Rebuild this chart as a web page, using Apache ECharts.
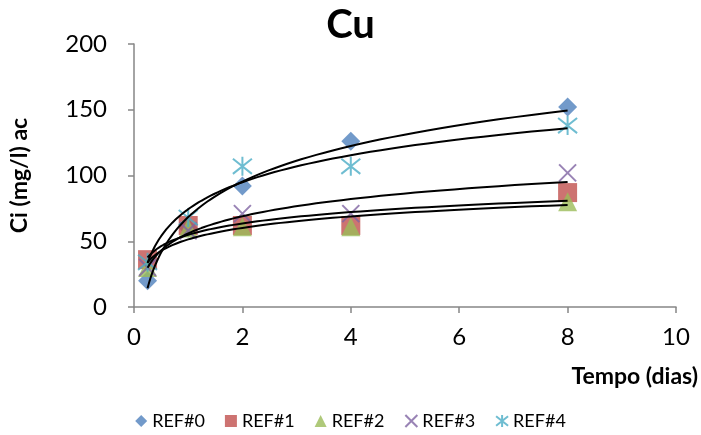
<!DOCTYPE html>
<html>
<head>
<meta charset="utf-8">
<script src="https://cdn.jsdelivr.net/npm/echarts@6/dist/echarts.min.js"></script>
<style>
  html, body { margin: 0; padding: 0; background: #fff; }
  #chart { width: 701px; height: 435px; }
</style>
</head>
<body>
<div id="chart"></div>
<script>
// dias de contacto
const tempos = [0.25, 1, 2, 4, 8];
// Ci (mg/l) por amostra
const ref0 = [20, 60, 92, 126, 152];
const ref1 = [36, 62, 62, 62, 87];
const ref2 = [30, 60, 61, 61, 80];
const ref3 = [30, 58, 71, 71, 102];
const ref4 = [34, 68, 107, 107, 138];
const nomes = ['REF#0', 'REF#1', 'REF#2', 'REF#3', 'REF#4'];
const xTicks = [0, 2, 4, 6, 8, 10];
const yTicks = [0, 50, 100, 150, 200];

const FONT = 'Lato';
const cores = ['#4F81BD', '#C0504D', '#9BBB59', '#8064A2', '#4BACC6'];

// tendencia logaritmica (y = a ln x + b), como no Excel
function logFit(xs, ys) {
  const ls = xs.map(x => Math.log(x));
  const lm = ls.reduce((s, v) => s + v, 0) / ls.length;
  const ym = ys.reduce((s, v) => s + v, 0) / ys.length;
  let num = 0, den = 0;
  ls.forEach((l, i) => { num += (l - lm) * (ys[i] - ym); den += (l - lm) * (l - lm); });
  const a = num / den;
  return { a: a, b: ym - a * lm };
}
function curva(ys) {
  const f = logFit(tempos, ys);
  const x0 = tempos[0], x1 = tempos[tempos.length - 1];
  const pts = [];
  for (let i = 0; i <= 80; i++) {
    const x = x0 * Math.pow(x1 / x0, i / 80);
    pts.push([x, f.a * Math.log(x) + f.b]);
  }
  return pts;
}
const pares = ys => tempos.map((t, i) => [t, ys[i]]);

const simbolos = [
  { symbol: 'diamond', size: 19, stroke: false },
  { symbol: 'rect', size: 19, stroke: false },
  { symbol: 'triangle', size: 19, stroke: false },
  { symbol: 'path://M0,0L10,10M10,0L0,10', size: 17, stroke: true },
  { symbol: 'path://M0,1L10,9M10,1L0,9M5,0L5,10', size: 19, stroke: true }
];
const dados = [ref0, ref1, ref2, ref3, ref4];

const series = [];
dados.forEach((ys, i) => {
  const s = simbolos[i];
  series.push({
    name: nomes[i],
    type: 'scatter',
    data: pares(ys),
    symbol: s.symbol,
    symbolSize: s.size,
    itemStyle: s.stroke
      ? { color: 'rgba(0,0,0,0)', borderColor: cores[i], borderWidth: 2 }
      : { color: cores[i] },
    z: 2
  });
});
dados.forEach((ys, i) => {
  series.push({
    name: nomes[i] + ' tend',
    type: 'line',
    data: curva(ys),
    showSymbol: false,
    lineStyle: { color: '#000', width: 2 },
    silent: true,
    z: 3
  });
});

const myChart = echarts.init(document.getElementById('chart'));
const option = {
  animation: false,
  textStyle: { fontFamily: FONT },
  title: {
    text: 'Cu',
    left: 'center',
    top: 0,
    textStyle: { fontFamily: FONT, fontSize: 40, fontWeight: 'bold', color: '#000' }
  },
  legend: {
    data: nomes.map((n, i) => ({ name: n, icon: i < 3 ? simbolos[i].symbol : undefined })),
    bottom: 0,
    left: 'center',
    itemWidth: 12,
    itemHeight: 12,
    itemGap: 20,
    textStyle: { fontFamily: FONT, fontSize: 18, color: '#000' }
  },
  grid: { left: 130, right: 25, top: 44, bottom: 128 },
  xAxis: {
    type: 'value',
    min: 0,
    max: 10,
    interval: 2,
    name: 'Tempo (dias)',
    nameLocation: 'end',
    nameGap: 22,
    nameTextStyle: {
      fontFamily: FONT, fontSize: 23, fontWeight: 'bold', color: '#000',
      align: 'right', verticalAlign: 'top', padding: [58, 0, 0, 0]
    },
    axisLine: { lineStyle: { color: '#868686', width: 1.5 } },
    axisTick: { show: true, length: 6, lineStyle: { color: '#868686', width: 1.5 } },
    axisLabel: {
      margin: 18, fontSize: 24, color: '#000', fontFamily: FONT,
      formatter: v => xTicks.indexOf(v) >= 0 ? String(v) : ''
    },
    splitLine: { show: false }
  },
  yAxis: {
    type: 'value',
    min: 0,
    max: 200,
    interval: 50,
    name: 'Ci (mg/l) ac',
    nameLocation: 'middle',
    nameGap: 103,
    nameTextStyle: { fontFamily: FONT, fontSize: 23, fontWeight: 'bold', color: '#000' },
    axisLine: { show: true, lineStyle: { color: '#868686', width: 1.5 } },
    axisTick: { show: true, length: 6, lineStyle: { color: '#868686', width: 1.5 } },
    axisLabel: {
      margin: 27, fontSize: 24, color: '#000', fontFamily: FONT,
      formatter: v => yTicks.indexOf(v) >= 0 ? String(v) : ''
    },
    splitLine: { show: false }
  },
  series: series
};
myChart.setOption(option);
</script>
</body>
</html>
